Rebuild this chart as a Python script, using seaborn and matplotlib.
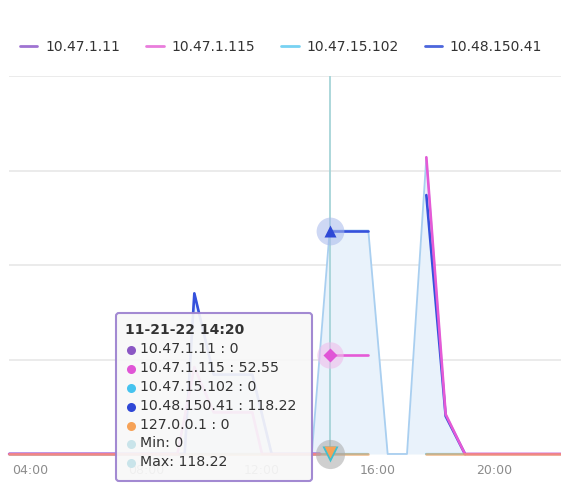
import matplotlib
matplotlib.use("Agg")
import matplotlib.pyplot as plt
from matplotlib.lines import Line2D
from matplotlib.patches import FancyBboxPatch
import pandas as pd
import seaborn as sns

# ---- data (None = no sample / gap in the series) ----
t_purple = ["03:17", "14:00", "16:00", "19:00", "22:20"]
v_purple = [0, 0, None, 0, 0]

t_pink = ["03:17", "09:05", "09:40", "10:20", "11:40", "12:00", "14:00", "14:10",
          "14:20", "15:40", "16:40", "17:40", "18:20", "19:00", "22:20"]
v_pink = [0, 0, 46, 22, 22, 0, 0, None, 52.55, 52.55, None, 157, 21, 0, 0]

t_cyan = ["03:17", "15:40", "16:40", "17:40", "22:20"]
v_cyan = [0, 0, None, 0, 0]

t_blue = ["03:17", "09:20", "09:40", "10:20", "11:40", "12:20", "14:00", "14:10",
          "14:20", "15:40", "16:40", "17:40", "18:20", "19:00"]
v_blue = [0, 0, 85, 42, 42, 0, 0, None, 118.22, 118.22, None, 137, 20, 0]

t_local = ["03:17", "15:40", "16:40", "17:40", "22:20"]
v_local = [0, 0, None, 0, 0]

t_band = ["03:17", "09:20", "09:40", "10:20", "11:40", "12:20", "13:43", "14:20",
          "15:40", "16:20", "17:00", "17:40", "18:20", "19:00", "22:20"]
v_band_max = [0, 0, 85, 42, 42, 0, 0, 118.22, 118.22, 0, 0, 157, 21, 0, 0]
v_band_min = [0, 0, 0, 0, 0, 0, 0, 0, 0, 0, 0, 0, 0, 0, 0]

series_names = ["10.47.1.11", "10.47.1.115", "10.47.15.102", "10.48.150.41"]
hover_time = "14:20"
hover_title = "11-21-22 14:20"
hover_rows = [("10.47.1.11", "0"), ("10.47.1.115", "52.55"), ("10.47.15.102", "0"),
              ("10.48.150.41", "118.22"), ("127.0.0.1", "0")]
hover_min = "0"
hover_max = "118.22"

x_ticks = ["04:00", "08:00", "12:00", "16:00", "20:00"]
y_ticks = [0, 50, 100, 150, 200]


def hrs(s):
    h, m = s.split(":")
    return int(h) + int(m) / 60.0


def frame(times, values):
    rows, seg = [], 0
    for t, v in zip(times, values):
        if v is None:
            seg += 1
            continue
        rows.append({"hour": hrs(t), "value": float(v), "seg": seg})
    return pd.DataFrame(rows)


sns.set_style("white")
plt.rcParams["font.family"] = ["DejaVu Sans"]

W, H = 561, 484
fig = plt.figure(figsize=(W / 100, H / 100), dpi=100)
ax = fig.add_axes([9 / W, (H - 454) / H, (W - 9) / W, (454 - 76) / H])

x0 = 4 + (9 - 30) / 29
x1 = 4 + (W - 30) / 29
ax.set_xlim(x0, x1)
ax.set_ylim(0, 200)

# min / max band
band = pd.DataFrame({"hour": [hrs(t) for t in t_band], "lo": v_band_min, "hi": v_band_max})
ax.fill_between(band["hour"], band["lo"], band["hi"], color="#e9f2fb", zorder=1, lw=0)
sns.lineplot(data=band, x="hour", y="hi", color="#a9cff0", lw=1.3, ax=ax, zorder=2.5,
             clip_on=False)

styles = [
    (t_purple, v_purple, "#9f73d2", 1.6, 1.0, 1.5),
    (t_cyan, v_cyan, "#78d2f2", 1.6, 1.0, 1.6),
    (t_blue, v_blue, "#3551dc", 1.9, 1.0, 4),
    (t_pink, v_pink, "#e55ad6", 1.9, 1.0, 5),
    (t_local, v_local, "#f6a257", 1.9, 0.65, 6),
]
for t, v, c, lw, a, z in styles:
    df = frame(t, v)
    sns.lineplot(data=df, x="hour", y="value", units="seg", estimator=None,
                 color=c, lw=lw, alpha=a, ax=ax, zorder=z, legend=False, clip_on=False)

# hover crosshair and highlighted points
hx = hrs(hover_time)
ax.axvline(hx, color="#a6d4d8", lw=1.3, zorder=7)
pb = v_blue[t_blue.index(hover_time)]
pp = v_pink[t_pink.index(hover_time)]
ax.plot([hx], [pb], "o", ms=20, color="#a7b8ec", alpha=0.55, mec="none", zorder=8)
ax.plot([hx], [pb], "^", ms=9, color="#2f49d6", mec="none", zorder=9)
ax.plot([hx], [pp], "o", ms=19, color="#efbdeb", alpha=0.6, mec="none", zorder=8)
ax.plot([hx], [pp], "D", ms=7, color="#e055d6", mec="none", zorder=9)
ax.plot([hx], [0], "o", ms=21, color="#a9a9a9", alpha=0.55, mec="none", zorder=8, clip_on=False)
ax.plot([hx], [0], "v", ms=11, color="#3fc0cf", mec="none", zorder=9, clip_on=False)
ax.plot([hx], [0.8], "v", ms=9, color="#f6a257", mec="none", zorder=9, clip_on=False)

# axes styling
ax.set_yticks(y_ticks)
ax.set_yticklabels([])
ax.tick_params(axis="y", length=0)
ax.set_xticks([hrs(s) for s in x_ticks])
ax.set_xticklabels(x_ticks, color="#8c8c8c", fontsize=9)
ax.tick_params(axis="x", length=6, width=1, color="#ccd6eb", pad=1)
ax.grid(axis="y", color="#e9e9e9", lw=1.3)
ax.set_axisbelow(True)
for s in ax.spines.values():
    s.set_visible(False)
ax.set_xlabel("")
ax.set_ylabel("")

# legend
leg_colors = ["#9f73d2", "#e97ddc", "#78d2f2", "#4c66dc"]
handles = [Line2D([0], [0], color=c, lw=2) for c in leg_colors]
fig.legend(handles, series_names, loc="center left", bbox_to_anchor=(20 / W, 1 - 47 / H),
           ncol=4, frameon=False, fontsize=10, handlelength=1.25, handletextpad=0.55,
           columnspacing=1.9, borderpad=0, borderaxespad=0, labelcolor="#333333")

# hover tooltip, drawn in pixel coordinates
ov = fig.add_axes([0, 0, 1, 1], zorder=10)
ov.set_xlim(0, W)
ov.set_ylim(H, 0)
ov.axis("off")
ov.patch.set_alpha(0)
box = FancyBboxPatch((116, 313), 196, 168, boxstyle="round,pad=0,rounding_size=3",
                     fc="#f8f8f8", ec="#9b80cf", lw=1.5, alpha=0.92)
ov.add_patch(box)
ov.text(125, 330, hover_title, fontsize=10, fontweight="bold", color="#333333", va="center")
dot_colors = ["#8b57c4", "#e055d6", "#45c3ef", "#2f47d6", "#f6a257"]
y = 349
for (name, val), c in zip(hover_rows, dot_colors):
    ov.plot([131], [y + 1], "o", ms=6.5, color=c, mec="none")
    ov.text(140, y, f"{name} : {val}", fontsize=10.2, color="#333333", va="center")
    y += 18.9
for label in (f"Min: {hover_min}", f"Max: {hover_max}"):
    ov.plot([131], [y + 1], "o", ms=6.5, color="#c9e4ea", mec="none")
    ov.text(140, y, label, fontsize=10.2, color="#333333", va="center")
    y += 18.9

fig.savefig("out.png", dpi=100)
